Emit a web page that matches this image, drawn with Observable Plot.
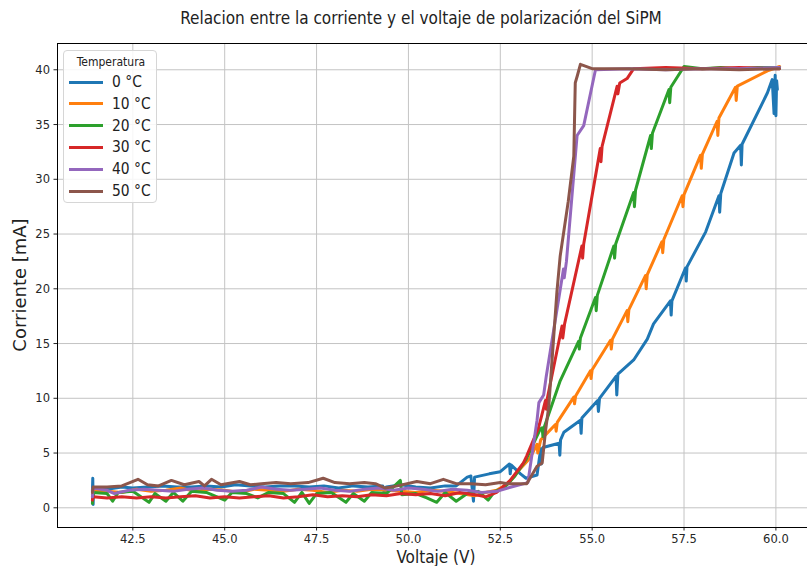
<!DOCTYPE html>
<html><head><meta charset="utf-8">
<script src="https://cdn.jsdelivr.net/npm/d3@7"></script>
<script src="https://cdn.jsdelivr.net/npm/@observablehq/plot@0.6"></script>
<style>
body{margin:0;background:#fff;}
#wrap{position:relative;width:807px;height:566px;overflow:hidden;font-family:"DejaVu Sans Condensed","DejaVu Sans",sans-serif;color:#262626;}
#title{position:absolute;left:0;width:842px;top:7px;text-align:center;font-size:17px;line-height:22px;color:#222;white-space:nowrap;}
#xlabel{position:absolute;left:336px;width:200px;top:546px;text-align:center;font-size:17px;line-height:22px;color:#222;}
#ylabel{position:absolute;left:20px;top:285px;transform:translate(-50%,-50%) rotate(-90deg);font-family:"DejaVu Sans",sans-serif;font-size:18px;line-height:22px;white-space:nowrap;color:#222;}
#legend{position:absolute;left:63px;top:50px;width:94px;height:153px;border:1px solid #d6d6d6;border-radius:4px;background:rgba(255,255,255,0.85);box-sizing:border-box;}
#legend .lt{position:absolute;left:0;width:94px;top:3px;text-align:center;font-size:12px;line-height:16px;color:#222;}
#legend .sw{position:absolute;left:5px;width:34px;height:3px;}
#legend .lb{position:absolute;left:48px;font-size:15.4px;line-height:18px;color:#222;white-space:nowrap;}
svg{position:absolute;left:0;top:0;}
</style></head>
<body><div id="wrap"><div id="chart"></div>
<div id="title">Relacion entre la corriente y el voltaje de polarización del SiPM</div>
<div id="xlabel">Voltaje (V)</div>
<div id="ylabel">Corriente [mA]</div>
<div id="legend"></div>
</div>
<script>
const temps = ["0 °C","10 °C","20 °C","30 °C","40 °C","50 °C"];
const colors = ["#1f77b4","#ff7f0e","#2ca02c","#d62728","#9467bd","#8c564b"];
const xTicks = [42.5,45,47.5,50,52.5,55,57.5,60];
const yTicks = [0,5,10,15,20,25,30,35,40];
const xDomain = [40.45, 60.86];
const yDomain = [-1.8, 42.4];

// [Voltaje (V), Corriente (mA)]
const s0 = [[41.40,1.5],[41.41,2.7],[41.42,0.3],[41.43,1.8],[41.8,1.7],[42.2,1.9],[42.5,1.8],[42.9,1.9],[43.3,2.0],[43.7,1.9],[44.1,1.9],[44.5,2.0],[44.9,1.9],[45.3,2.1],[45.7,2.0],[46.1,1.9],[46.5,2.0],[46.9,2.0],[47.3,1.9],[47.7,2.0],[48.1,1.8],[48.5,2.0],[48.9,1.9],[49.3,2.0],[49.35,1.3],[49.4,1.9],[49.8,2.1],[50.2,1.9],[50.6,1.8],[51.0,2.0],[51.3,2.0],[51.6,2.8],[51.7,2.9],[51.77,0.6],[51.8,2.8],[52.2,3.1],[52.5,3.3],[52.75,4.0],[52.77,3.1],[52.8,3.9],[53.05,3.1],[53.2,2.7],[53.5,3.0],[53.6,5.4],[53.62,4.0],[53.66,5.5],[54.1,5.9],[54.12,4.8],[54.14,6.2],[54.23,6.9],[54.68,8.0],[54.7,6.8],[54.72,8.2],[55.15,9.8],[55.17,8.8],[55.2,10.0],[55.65,12.0],[55.67,10.3],[55.7,12.2],[56.13,13.5],[56.5,15.4],[56.67,16.8],[57.13,18.9],[57.15,17.6],[57.17,18.9],[57.54,21.9],[57.56,20.7],[57.58,22.0],[58.09,25.2],[58.45,28.5],[58.47,27.0],[58.5,28.7],[58.86,32.4],[59.04,33.1],[59.06,31.3],[59.08,33.2],[59.77,37.9],[59.9,39.1],[59.95,36.0],[59.98,39.5],[60.0,35.8],[60.02,39.0],[60.04,38.2]];
const s1 = [[41.40,1.2],[41.42,1.6],[41.8,1.5],[42.2,1.4],[42.6,1.7],[43.0,1.5],[43.4,1.6],[43.8,1.8],[44.2,1.5],[44.6,1.7],[45.0,1.6],[45.4,1.4],[45.8,1.7],[46.2,1.6],[46.6,1.5],[47.0,1.7],[47.4,1.6],[47.8,1.4],[48.2,1.6],[48.6,1.5],[49.0,1.7],[49.4,1.6],[49.8,1.5],[50.2,1.4],[50.6,1.6],[51.0,1.5],[51.4,1.3],[51.8,1.1],[52.1,1.4],[52.4,1.6],[52.7,2.2],[53.0,3.4],[53.3,4.5],[53.5,5.8],[53.52,5.0],[53.6,6.2],[54.0,7.6],[54.02,7.0],[54.05,7.8],[54.5,10.1],[54.52,9.5],[54.55,10.2],[54.95,12.5],[54.97,11.8],[55.0,12.6],[55.5,15.3],[55.52,14.5],[55.55,15.4],[55.95,18.0],[55.97,17.0],[56.0,18.1],[56.45,21.2],[56.47,20.0],[56.5,21.3],[56.9,24.3],[56.92,23.3],[56.95,24.5],[57.45,28.5],[57.47,27.5],[57.5,28.6],[57.95,32.2],[57.97,31.0],[58.0,32.3],[58.4,35.3],[58.42,34.0],[58.45,35.6],[58.9,38.4],[58.92,37.2],[58.95,38.5],[59.77,39.9],[60.1,40.3]];
const s2 = [[41.40,0.4],[41.42,1.4],[41.8,1.3],[41.95,0.6],[42.1,1.4],[42.5,1.5],[42.94,0.5],[43.1,1.3],[43.4,0.6],[43.6,1.4],[43.86,0.6],[44.1,1.5],[44.5,1.4],[45.0,0.7],[45.2,1.4],[45.6,1.3],[45.9,0.9],[46.2,1.4],[46.6,1.3],[46.9,0.5],[47.1,1.4],[47.3,0.4],[47.5,1.3],[47.9,1.4],[48.3,0.5],[48.5,1.3],[48.8,0.6],[49.0,1.4],[49.4,1.3],[49.78,2.5],[49.82,1.2],[50.2,1.3],[50.5,0.9],[50.77,0.5],[51.0,1.4],[51.3,0.6],[51.6,1.3],[51.9,1.5],[52.17,0.7],[52.35,1.5],[52.6,1.8],[52.9,2.9],[53.2,4.4],[53.59,7.2],[53.64,7.3],[53.66,6.5],[53.7,7.4],[54.13,11.6],[54.63,15.2],[54.65,14.5],[54.68,15.5],[55.09,19.2],[55.11,18.0],[55.14,19.4],[55.59,23.9],[55.61,22.8],[55.64,24.1],[56.13,28.8],[56.15,27.5],[56.18,29.0],[56.59,34.0],[56.61,32.8],[56.64,34.2],[57.09,38.2],[57.11,37.0],[57.14,38.4],[57.5,40.3],[58.0,40.1],[58.5,40.2],[59.0,40.1],[59.5,40.2],[60.1,40.2]];
const s3 = [[41.40,0.7],[41.42,1.0],[41.8,0.9],[42.2,1.0],[42.6,0.9],[43.0,1.0],[43.4,0.9],[43.8,1.0],[44.2,1.1],[44.6,0.9],[45.0,1.0],[45.4,0.9],[45.8,1.0],[46.2,1.1],[46.6,0.9],[47.0,1.0],[47.4,1.2],[47.8,1.0],[48.2,1.1],[48.6,1.0],[49.0,1.2],[49.4,1.1],[49.8,1.3],[50.2,1.2],[50.6,1.3],[51.0,1.1],[51.4,1.4],[51.8,1.2],[52.1,1.0],[52.4,1.4],[52.77,2.5],[53.13,4.1],[53.22,4.75],[53.54,7.3],[53.64,8.6],[53.73,9.8],[53.75,9.0],[53.78,10.0],[54.18,16.6],[54.2,15.5],[54.25,16.8],[54.72,23.9],[54.74,22.8],[54.77,24.1],[55.22,32.8],[55.24,31.6],[55.27,33.0],[55.68,38.5],[55.7,37.8],[55.75,38.8],[55.95,39.2],[56.13,40.1],[57.0,40.2],[58.0,40.1],[59.0,40.2],[60.1,40.1]];
const s4 = [[41.40,1.0],[41.42,1.8],[41.8,1.6],[42.0,1.3],[42.4,1.6],[42.8,1.7],[43.2,1.6],[43.6,1.5],[44.0,1.7],[44.4,1.8],[44.8,1.6],[45.2,1.5],[45.6,1.6],[46.0,1.9],[46.4,1.7],[46.8,1.6],[47.2,1.7],[47.6,1.8],[48.0,1.6],[48.4,1.5],[48.8,1.7],[49.2,1.8],[49.6,1.6],[50.0,1.8],[50.4,1.7],[50.8,1.5],[51.2,1.7],[51.6,1.6],[52.0,1.4],[52.4,1.5],[52.8,1.9],[53.25,2.3],[53.5,8.0],[53.55,9.6],[53.68,10.3],[53.75,12.0],[54.22,21.8],[54.24,21.0],[54.3,22.5],[54.59,34.0],[54.77,34.9],[55.09,40.0],[56.0,40.1],[57.0,40.0],[58.0,40.1],[59.0,40.1],[60.1,40.2]];
const s5 = [[41.40,1.4],[41.42,1.9],[41.8,1.9],[42.2,2.0],[42.64,2.6],[42.9,2.1],[43.2,2.0],[43.55,2.5],[43.9,2.1],[44.3,2.4],[44.45,2.0],[44.64,2.6],[44.9,2.1],[45.4,2.4],[45.7,2.1],[46.0,2.2],[46.4,2.3],[46.8,2.2],[47.27,2.3],[47.68,2.7],[48.0,2.3],[48.4,2.2],[48.8,2.3],[49.1,2.2],[49.37,1.8],[49.7,2.0],[50.23,2.4],[50.6,2.2],[50.95,2.6],[51.3,2.2],[51.7,2.2],[52.1,2.1],[52.5,2.3],[52.7,2.2],[53.22,2.2],[53.5,3.8],[53.64,4.1],[53.73,7.0],[53.82,9.3],[54.04,19.7],[54.13,23.0],[54.35,28.0],[54.5,32.1],[54.54,38.8],[54.6,39.5],[54.68,40.5],[55.0,40.1],[56.0,40.1],[57.0,40.0],[58.0,40.1],[59.0,40.0],[60.1,40.1]];

const series = [s0, s1, s2, s3, s4, s5];
const data = series.flatMap((s, k) => s.map(([v, i]) => ({v, i, t: temps[k]})));

const chart = Plot.plot({
  width: 807, height: 566,
  marginTop: 43, marginBottom: 39, marginLeft: 57, marginRight: 0,
  style: {fontFamily: '"DejaVu Sans Condensed","DejaVu Sans",sans-serif', fontSize: "12.8px", color: "#262626", background: "transparent"},
  x: {domain: xDomain, ticks: xTicks, tickFormat: d => d.toFixed(1), tickSize: 3.5, tickPadding: 3, label: null},
  y: {domain: yDomain, ticks: yTicks, tickFormat: d => String(d), tickSize: 3.5, tickPadding: 4, label: null},
  color: {domain: temps, range: colors},
  marks: [
    Plot.ruleX(xTicks, {stroke: "#c4c4c4", strokeWidth: 1}),
    Plot.ruleY(yTicks, {stroke: "#c4c4c4", strokeWidth: 1}),
    Plot.line(data, {x: "v", y: "i", z: "t", stroke: "t", strokeWidth: 3, strokeLinejoin: "round", strokeLinecap: "round"}),
    Plot.ruleY([yDomain[0]], {stroke: "#000", strokeWidth: 1}),
    Plot.ruleY([yDomain[1]], {stroke: "#000", strokeWidth: 1}),
    Plot.ruleX([xDomain[0]], {stroke: "#000", strokeWidth: 1})
  ]
});
document.getElementById("chart").appendChild(chart);

const leg = document.getElementById("legend");
const lt = document.createElement("div");
lt.className = "lt"; lt.textContent = "Temperatura";
leg.appendChild(lt);
temps.forEach((t, k) => {
  const cy = 31 + k * 21.8;
  const sw = document.createElement("div");
  sw.className = "sw"; sw.style.top = (cy - 1.5) + "px"; sw.style.background = colors[k];
  const lb = document.createElement("div");
  lb.className = "lb"; lb.style.top = (cy - 9) + "px"; lb.textContent = t;
  leg.appendChild(sw); leg.appendChild(lb);
});
</script>
</body></html>
